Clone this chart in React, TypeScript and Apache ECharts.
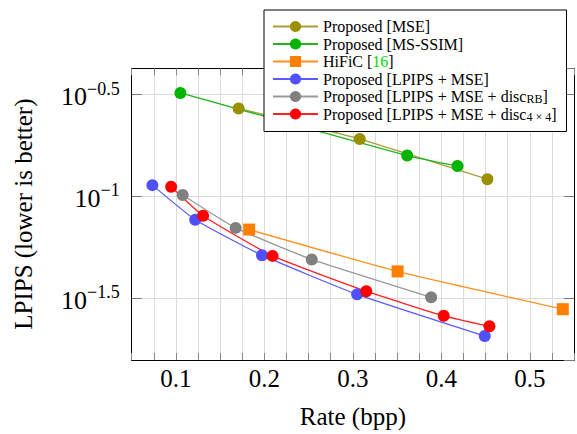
import React, { useEffect, useRef } from "react";
import * as echarts from "echarts";

const FONT = "Liberation Serif";

// Series data (rate in bpp, LPIPS)
const mseRate = [0.1709, 0.3078, 0.4521];
const mseLpips = [0.2704, 0.1913, 0.1215];

const msssimRate = [0.105, 0.3614, 0.4183];
const msssimLpips = [0.3222, 0.1588, 0.141];

const hificRate = [0.1828, 0.3506, 0.5373];
const hificLpips = [0.0687, 0.0428, 0.0279];

const lpipsMseRate = [0.0734, 0.1218, 0.1973, 0.3048, 0.4491];
const lpipsMseLpips = [0.1136, 0.0768, 0.0514, 0.033, 0.0206];

const discRbRate = [0.1076, 0.1675, 0.2535, 0.3885];
const discRbLpips = [0.1016, 0.07, 0.049, 0.0319];

const disc44Rate = [0.0946, 0.1307, 0.2092, 0.3152, 0.4027, 0.4544];
const disc44Lpips = [0.1115, 0.0803, 0.051, 0.0342, 0.0259, 0.023];

const seriesNames = [
  "Proposed [MSE]",
  "Proposed [MS-SSIM]",
  "HiFiC [16]",
  "Proposed [LPIPS + MSE]",
  "Proposed [LPIPS + MSE + discRB]",
  "Proposed [LPIPS + MSE + disc4x4]",
];

const legendLabels: Record<string, string> = {
  "HiFiC [16]": "{main|HiFiC [}{cite|16}{main|]}",
  "Proposed [LPIPS + MSE + discRB]": "{main|Proposed [LPIPS + MSE + disc}{sub|RB}{main|]}",
  "Proposed [LPIPS + MSE + disc4x4]": "{main|Proposed [LPIPS + MSE + disc}{sub|4 × 4}{main|]}",
};

const xTickLabels = [0.1, 0.2, 0.3, 0.4, 0.5];
const yTickExponents = [-1.5, -1, -0.5];

const zip = (xs: number[], ys: number[]) => xs.map((x, i) => [x, ys[i]]);

export default function App() {
  const ref = useRef<HTMLDivElement>(null);
  useEffect(() => {
    if (!ref.current) return;
    const chart = echarts.init(ref.current, null, { renderer: "svg" });

    const mk = (
      name: string,
      xs: number[],
      ys: number[],
      color: string,
      lineColor: string,
      symbol = "circle",
      size = 12,
      z = 2
    ) => ({
      name,
      type: "line",
      data: zip(xs, ys),
      symbol,
      symbolSize: size,
      smooth: 0.15,
      z,
      itemStyle: { color, borderWidth: 0 },
      lineStyle: { color: lineColor, width: 1.3 },
      emphasis: { disabled: true },
    });

    const yMin = Math.pow(10, -1.804);
    const yMax = Math.pow(10, -0.3705);

    const yLabelFmt = (v: number) => {
      const e = Math.round(Math.log10(v) * 10) / 10;
      if (!yTickExponents.some((t) => Math.abs(t - e) < 1e-6)) return "";
      const s = String(e).replace("-", "\u2212");
      return `{a|10}{b|${s}}`;
    };

    chart.setOption({
      animation: false,
      backgroundColor: "#fff",
      grid: { left: 131.7, top: 68.3, right: -2.7, bottom: 70.3, containLabel: false },
      xAxis: [
        {
          type: "value",
          min: 0.05,
          max: 0.55,
          interval: 0.025,
          name: "Rate (bpp)",
          nameLocation: "middle",
          nameGap: 44,
          nameTextStyle: { fontFamily: FONT, fontSize: 25, color: "#000" },
          axisLine: { show: true, lineStyle: { color: "#000", width: 1 } },
          axisTick: { show: true, inside: true, length: 7, lineStyle: { color: "#888" } },
          splitLine: { show: true, lineStyle: { color: "#dcdcdc", width: 1 } },
          axisLabel: {
            fontFamily: FONT,
            fontSize: 25,
            color: "#000",
            margin: 6,
            formatter: (v: number) => {
              const hit = xTickLabels.find((t) => Math.abs(t - v) < 1e-6);
              return hit !== undefined ? hit.toFixed(1) : "";
            },
          },
        },
        {
          type: "value",
          position: "top",
          min: 0.05,
          max: 0.55,
          interval: 0.025,
          axisLine: { show: true, lineStyle: { color: "#000", width: 1 } },
          axisTick: { show: true, inside: true, length: 7, lineStyle: { color: "#888" } },
          splitLine: { show: false },
          axisLabel: { show: false },
        },
      ],
      yAxis: [
        {
          type: "log",
          logBase: Math.sqrt(10),
          min: yMin,
          max: yMax,
          name: "LPIPS (lower is better)",
          nameLocation: "middle",
          nameGap: 96,
          nameRotate: 90,
          nameTextStyle: { fontFamily: FONT, fontSize: 25, color: "#000" },
          axisLine: { show: true, lineStyle: { color: "#000", width: 1 } },
          axisTick: { show: true, inside: true, length: 10, lineStyle: { color: "#777" } },
          minorTick: { show: false },
          splitLine: { show: true, lineStyle: { color: "#dcdcdc", width: 1 } },
          axisLabel: {
            margin: 12,
            showMinLabel: false,
            showMaxLabel: false,
            formatter: yLabelFmt,
            rich: {
              a: { fontFamily: FONT, fontSize: 26, color: "#000", lineHeight: 30, verticalAlign: "bottom" },
              b: { fontFamily: FONT, fontSize: 18, color: "#000", lineHeight: 18, verticalAlign: "top" },
            },
          },
        },
        {
          type: "log",
          logBase: Math.sqrt(10),
          min: yMin,
          max: yMax,
          position: "right",
          axisLine: { show: true, lineStyle: { color: "#000", width: 1 } },
          axisTick: { show: true, inside: true, length: 10, lineStyle: { color: "#777" } },
          splitLine: { show: false },
          axisLabel: { show: false },
        },
      ],
      legend: {
        orient: "vertical",
        left: 264,
        top: 10,
        itemWidth: 45,
        itemHeight: 14,
        itemGap: 0.5,
        padding: [8, 10, 9, 8],
        backgroundColor: "#fff",
        borderColor: "#000",
        borderWidth: 1,
        borderRadius: 0,
        data: seriesNames,
        formatter: (name: string) => legendLabels[name] || name,
        textStyle: {
          fontFamily: FONT,
          fontSize: 16,
          lineHeight: 17,
          color: "#000",
          rich: {
            main: { fontFamily: FONT, fontSize: 16, lineHeight: 17, color: "#000" },
            cite: { fontFamily: FONT, fontSize: 16, lineHeight: 17, color: "#00dd00" },
            sub: { fontFamily: FONT, fontSize: 12, lineHeight: 12, color: "#000", verticalAlign: "bottom" },
          },
        },
      },
      series: [
        mk(seriesNames[0], mseRate, mseLpips, "#998f00", "#a89f3a"),
        mk(seriesNames[1], msssimRate, msssimLpips, "#00b400", "#22b422"),
        mk(seriesNames[2], hificRate, hificLpips, "#ff8000", "#ff9020", "rect", 12, 3),
        mk(seriesNames[3], lpipsMseRate, lpipsMseLpips, "#5050ff", "#5a5aff"),
        mk(seriesNames[4], discRbRate, discRbLpips, "#808080", "#999999"),
        mk(seriesNames[5], disc44Rate, disc44Lpips, "#ff0000", "#ff2020"),
      ],
    });

    return () => chart.dispose();
  }, []);

  return (
    <div
      ref={ref}
      style={{ position: "fixed", left: 0, top: 0, width: 577, height: 434 }}
    />
  );
}
